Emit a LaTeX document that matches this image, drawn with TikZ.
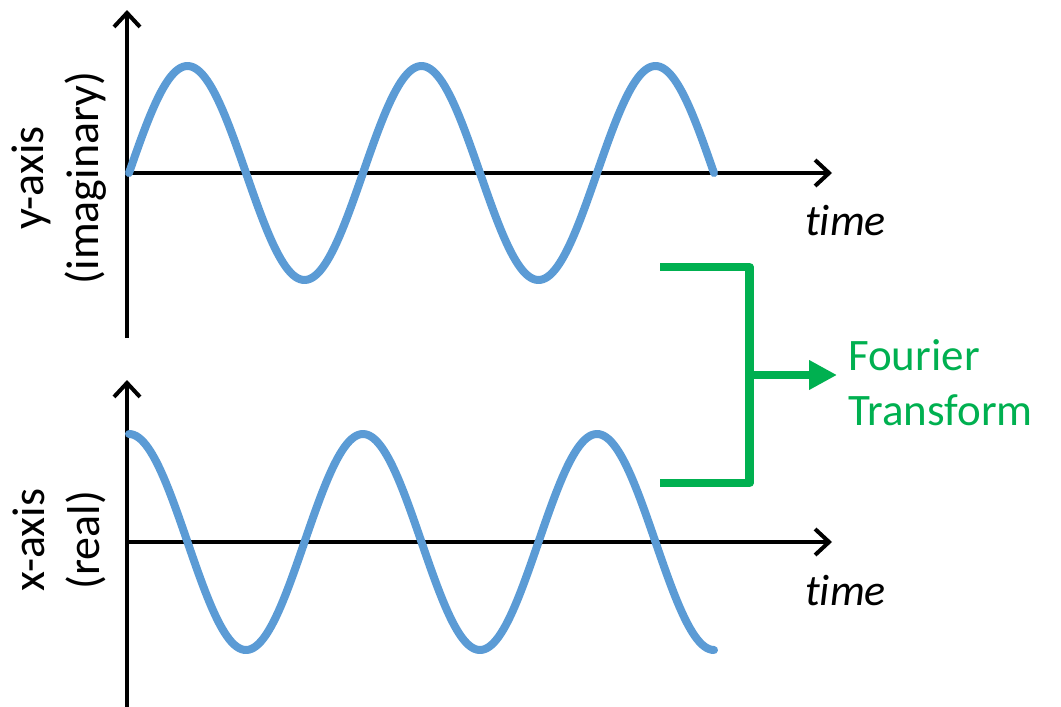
\documentclass[tikz,border=0pt]{standalone}
\usepackage{fontspec}
\setmainfont[Ligatures={NoCommon}]{Carlito}
\usetikzlibrary{arrows.meta}
\definecolor{wave}{HTML}{5B9BD5}
\definecolor{ftgreen}{HTML}{00B050}
\begin{document}
\begin{tikzpicture}[x=1pt,y=-1pt,
  axis/.style={line width=4pt,-{Straight Barb[length=14pt,width=26pt,line width=4pt]}},
  wavestyle/.style={wave,line width=8pt,line cap=round,line join=round},
  bracket/.style={ftgreen,line width=8.5pt,line join=round},
  lbl/.style={font=\fontsize{46}{55}\selectfont,align=center,rotate=90,inner sep=0pt},
  timelbl/.style={font=\fontsize{44}{52}\selectfont\itshape,anchor=base west,inner sep=0pt}]
\useasboundingbox (0,0) rectangle (1061,707);
% top axes
\coordinate (o1) at (127,173);
\coordinate (v1b) at (127,338);
\coordinate (v1t) at (127,10);
\coordinate (h1r) at (832,173);
\draw[axis] (v1b) -- (v1t);
\draw[axis] (o1) -- (h1r);
% bottom axes
\coordinate (o2) at (127,542);
\coordinate (v2b) at (127,707);
\coordinate (v2t) at (127,380);
\coordinate (h2r) at (832,542);
\draw[axis] (v2b) -- (v2t);
\draw[axis] (o2) -- (h2r);
% waves
\draw[wavestyle] plot[domain=0:900,samples=240,variable=\t] ({129+\t/360*234},{173-107*sin(\t)});
\draw[wavestyle] plot[domain=0:900,samples=240,variable=\t] ({129+\t/360*234},{542-108*cos(\t)});
% labels
\node[lbl] (ylab) at (59,178) {y-axis\\(imaginary)};
\node[lbl] (xlab) at (59,540) {x-axis\\(real)};
\node[timelbl] (t1) at (805,235) {t\kern0pt ime};
\node[timelbl] (t2) at (805,605) {t\kern0pt ime};
% bracket
\coordinate (b1) at (660,267);
\coordinate (b2) at (749.5,267);
\coordinate (b3) at (749.5,483);
\coordinate (b4) at (660,483);
\coordinate (bm) at (749.5,375);
\draw[bracket] (b1) -- (b2) -- (b3) -- (b4);
\node[ftgreen,font=\fontsize{45}{55}\selectfont,align=left,anchor=west,inner sep=0pt] (ft) at (848,383) {Fourier\\Transform};
\draw[bracket,-{Triangle[length=28pt,width=28pt]}] (bm) -- ([xshift=-11pt]ft.west |- bm);
\end{tikzpicture}
\end{document}
